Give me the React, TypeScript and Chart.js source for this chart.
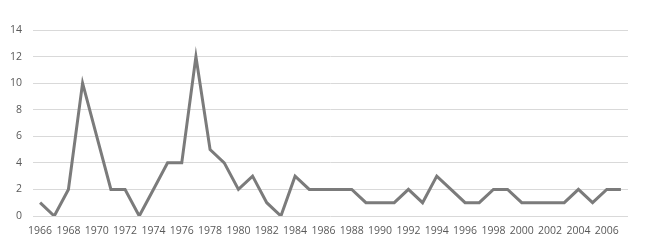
import React, { useEffect, useRef } from "react";
import { Chart, registerables } from "chart.js";

Chart.register(...registerables);

const years: string[] = [
  "1966","1967","1968","1969","1970","1971","1972","1973","1974","1975",
  "1976","1977","1978","1979","1980","1981","1982","1983","1984","1985",
  "1986","1987","1988","1989","1990","1991","1992","1993","1994","1995",
  "1996","1997","1998","1999","2000","2001","2002","2003","2004","2005",
  "2006","2007",
];
const counts: number[] = [
  1, 0, 2, 10, 6, 2, 2, 0, 2, 4,
  4, 12, 5, 4, 2, 3, 1, 0, 3, 2,
  2, 2, 2, 1, 1, 1, 2, 1, 3, 2,
  1, 1, 2, 2, 1, 1, 1, 1, 2, 1,
  2, 2,
];
const yMax = 14;
const yStep = 2;

export default function App() {
  const ref = useRef<HTMLCanvasElement | null>(null);
  useEffect(() => {
    document.body.style.margin = "0";
    const ctx = ref.current!;
    const chart = new Chart(ctx, {
      type: "line",
      data: {
        labels: years,
        datasets: [
          {
            data: counts,
            borderColor: "#7b7b7b",
            borderWidth: 3,
            pointRadius: 0,
            tension: 0,
            fill: false,
          },
        ],
      },
      options: {
        animation: false,
        responsive: false,
        maintainAspectRatio: false,
        layout: { padding: { top: 30, right: 30, left: 0, bottom: 0 } },
        plugins: { legend: { display: false }, tooltip: { enabled: false } },
        scales: {
          x: {
            offset: true,
            grid: { display: false, drawTicks: false },
            border: { display: false },
            ticks: {
              autoSkip: false,
              maxRotation: 0,
              minRotation: 0,
              padding: 9,
              color: "#595959",
              font: { family: "'Open Sans', sans-serif", size: 10.5 },
              callback: (_v: any, i: number) => (i % 2 === 0 ? years[i] : ""),
            },
            afterFit: (s: any) => {
              s.height = 32;
            },
          },
          y: {
            min: 0,
            max: yMax,
            grid: { color: "#d9d9d9", drawTicks: false, lineWidth: 1 },
            border: { display: false },
            ticks: {
              stepSize: yStep,
              padding: 11,
              color: "#595959",
              font: { family: "'Open Sans', sans-serif", size: 10.5 },
            },
            afterFit: (s: any) => {
              s.width = 33;
            },
          },
        },
      },
    });
    return () => chart.destroy();
  }, []);
  return (
    <div style={{ position: "relative", width: 658, height: 248, background: "#fff" }}>
      <canvas ref={ref} width={658} height={248} style={{ width: 658, height: 248 }} />
    </div>
  );
}
